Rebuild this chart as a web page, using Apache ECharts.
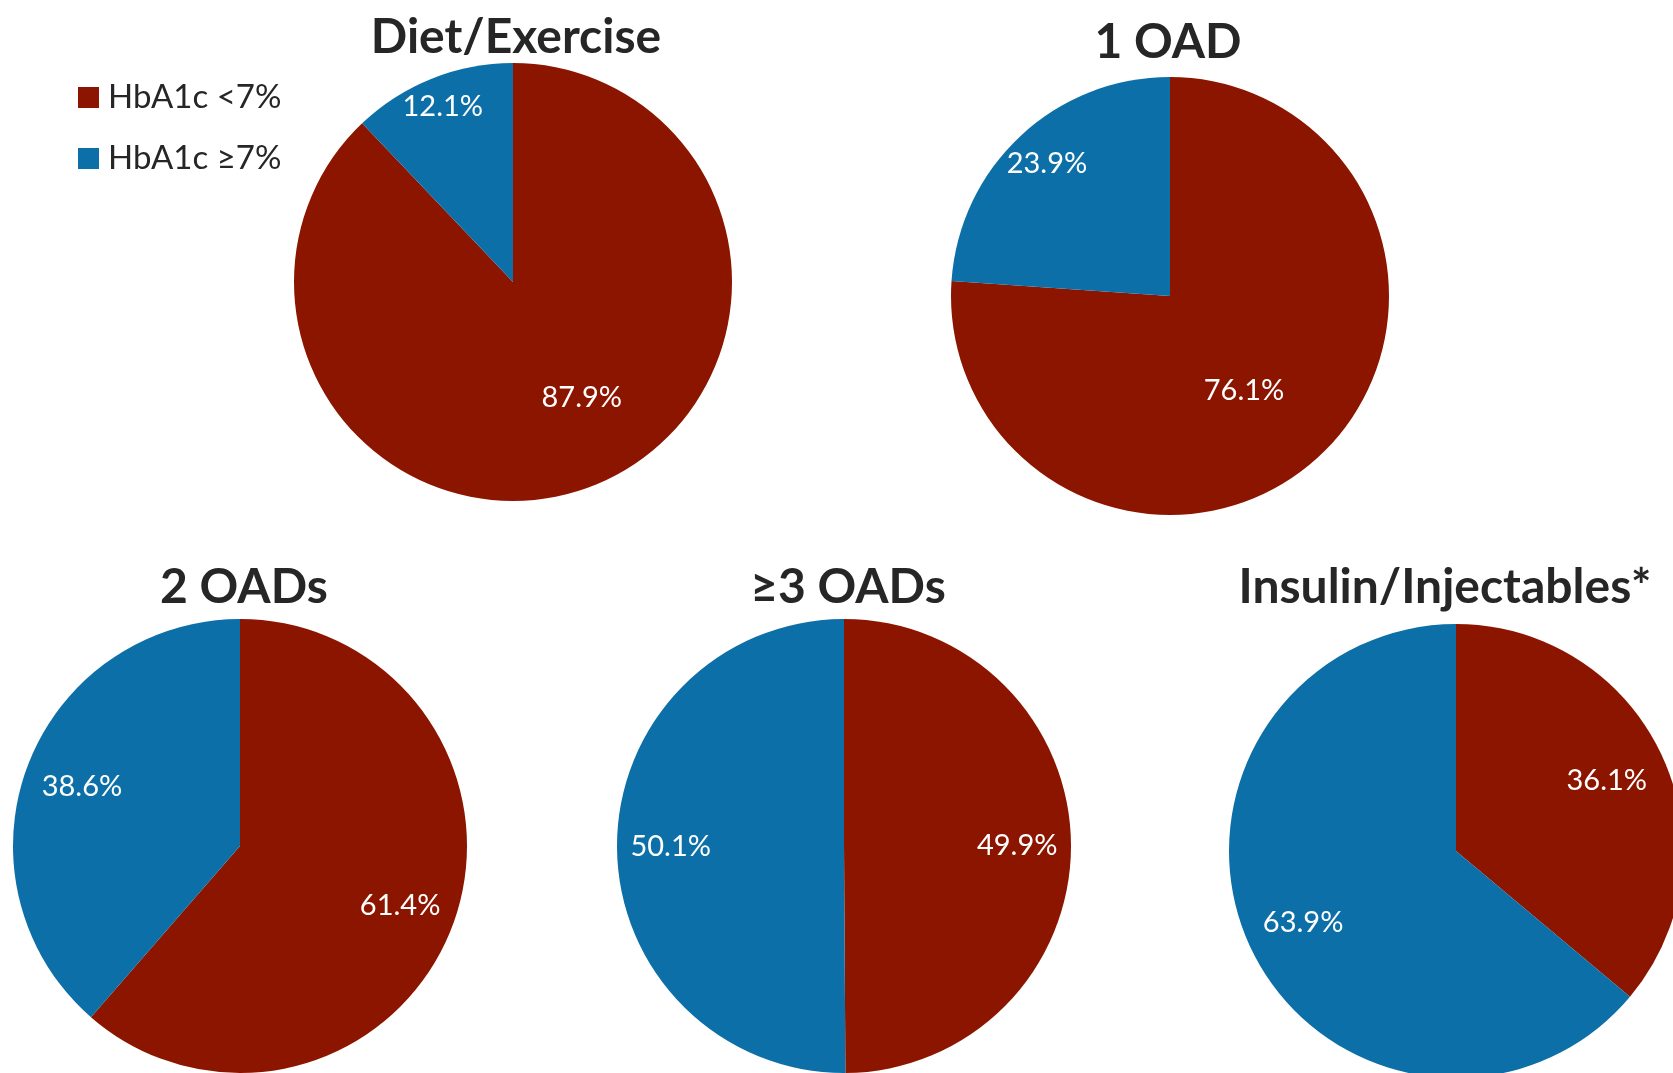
<!DOCTYPE html>
<html>
<head>
<meta charset="utf-8">
<script src="https://cdn.jsdelivr.net/npm/echarts@6/dist/echarts.min.js"></script>
<style>
  html, body { margin: 0; padding: 0; background: #ffffff; }
  #chart { width: 1673px; height: 1073px; }
</style>
</head>
<body>
<div id="chart"></div>
<script>
// ---- data ----
const groups = ['Diet/Exercise', '1 OAD', '2 OADs', '≥3 OADs', 'Insulin/Injectables*'];
const categories = ['HbA1c <7%', 'HbA1c ≥7%'];
const below7 = [87.9, 76.1, 61.4, 49.9, 36.1];
const atOrAbove7 = [12.1, 23.9, 38.6, 50.1, 63.9];

// ---- layout / style ----
const colors = ['#8C1500', '#0C6FA7'];
const pieCenters = [[513, 282], [1170, 296], [240, 846], [844, 846], [1456, 851]];
const pieRadii = [219, 219, 227, 227, 227];
const titleCenters = [[511, 33], [1163, 38], [239, 583], [843, 583], [1440, 583]];
// label placement: fraction of radius, and angular nudge (degrees) per slice
const labelFrac = [[0.6, 0.85], [0.535, 0.81], [0.74, 0.73], [0.75, 0.75], [0.72, 0.73]];
const labelTurn = [[9, 0], [-5, 0], [0, 0], [0, 0], [0, 0]];
const titleFont = 'Lato';
const bodyFont = 'Lato';

const chart = echarts.init(document.getElementById('chart'), null, { renderer: 'canvas' });

const titles = groups.map((g, i) => ({
  text: g,
  left: titleCenters[i][0],
  top: titleCenters[i][1],
  textAlign: 'center',
  textVerticalAlign: 'middle',
  textStyle: { fontFamily: titleFont, fontWeight: 'bold', fontSize: 48, color: '#262626' }
}));

function sliceData(i) {
  return categories.map((c, j) => ({
    name: c,
    value: j === 0 ? below7[i] : atOrAbove7[i]
  }));
}

const series = [];
groups.forEach((g, i) => {
  series.push({
    type: 'pie',
    name: g,
    center: pieCenters[i],
    radius: [0, pieRadii[i]],
    startAngle: 90,
    clockwise: true,
    silent: true,
    animation: false,
    label: { show: false },
    labelLine: { show: false },
    itemStyle: { borderWidth: 0 },
    color: colors,
    data: sliceData(i)
  });
});
groups.forEach((g, i) => {
  categories.forEach((c, k) => {
    const R = pieRadii[i];
    const f = labelFrac[i][k];
    series.push({
      type: 'pie',
      name: g + ' label ' + k,
      center: pieCenters[i],
      radius: [Math.max(0, (2 * f - 1)) * R, R],
      startAngle: 90 + labelTurn[i][k],
      clockwise: true,
      silent: true,
      animation: false,
      avoidLabelOverlap: false,
      itemStyle: { color: 'rgba(0,0,0,0)', borderWidth: 0 },
      labelLine: { show: false },
      label: {
        show: true,
        position: 'inside',
        fontFamily: bodyFont,
        fontSize: 29,
        color: '#ffffff',
        padding: [9, 0, 0, 0],
        formatter: p => p.dataIndex === k ? p.value.toFixed(1) + '%' : ''
      },
      data: sliceData(i)
    });
  });
});

chart.setOption({
  backgroundColor: '#ffffff',
  animation: false,
  title: titles,
  legend: {
    orient: 'vertical',
    left: 78,
    top: 81,
    padding: 0,
    itemWidth: 21,
    itemHeight: 21,
    itemGap: 28,
    icon: 'rect',
    selectedMode: false,
    data: categories,
    textStyle: { fontFamily: bodyFont, fontSize: 33, color: '#262626', padding: [0, 0, 0, 4] }
  },
  series: series
});
</script>
</body>
</html>
